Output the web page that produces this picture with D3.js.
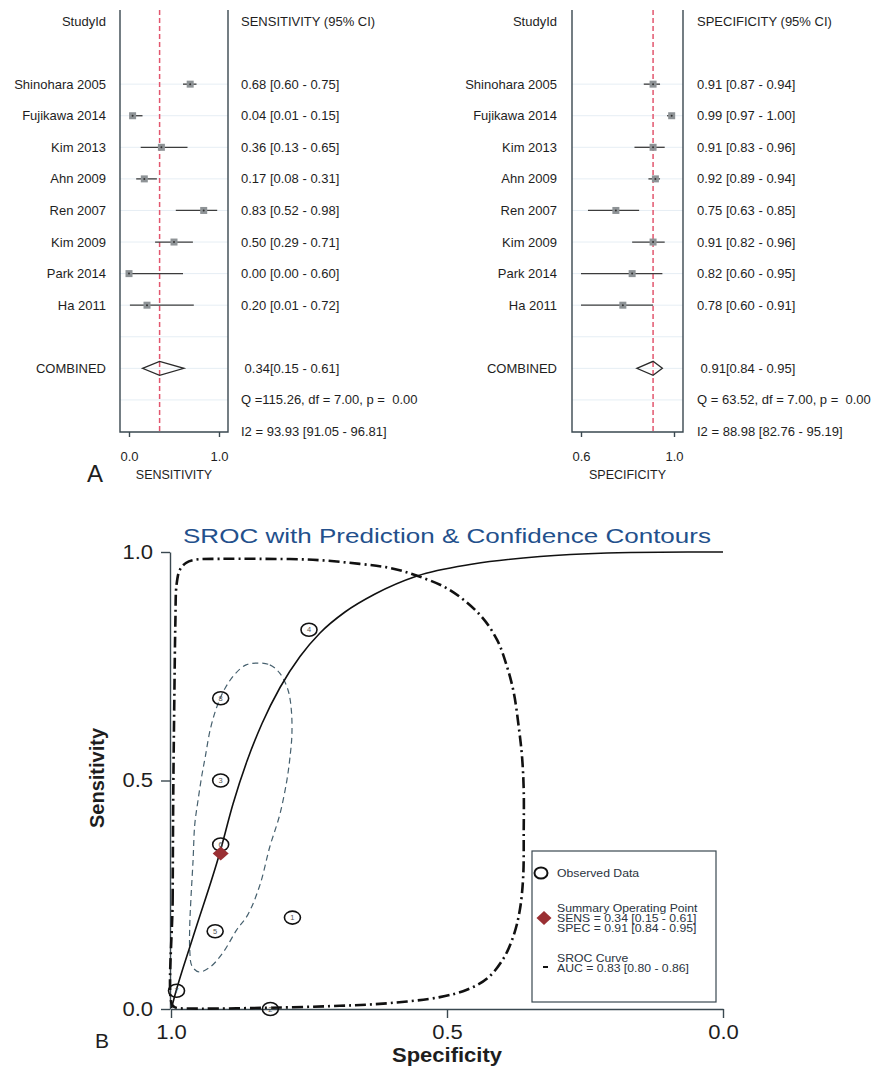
<!DOCTYPE html>
<html>
<head>
<meta charset="utf-8">
<script src="https://cdn.jsdelivr.net/npm/d3@7"></script>
<style>
  body { margin: 0; background: #ffffff; }
  svg { display: block; font-family: "Liberation Sans", Arial, sans-serif; }
  text { white-space: pre; }
</style>
</head>
<body>
<script>
// ---- Study-level data ----
const studies = ["Shinohara 2005", "Fujikawa 2014", "Kim 2013", "Ahn 2009", "Ren 2007", "Kim 2009", "Park 2014", "Ha 2011"];
const sens   = [0.68, 0.04, 0.36, 0.17, 0.83, 0.50, 0.00, 0.20];
const sensLo = [0.60, 0.01, 0.13, 0.08, 0.52, 0.29, 0.00, 0.01];
const sensHi = [0.75, 0.15, 0.65, 0.31, 0.98, 0.71, 0.60, 0.72];
const spec   = [0.91, 0.99, 0.91, 0.92, 0.75, 0.91, 0.82, 0.78];
const specLo = [0.87, 0.97, 0.83, 0.89, 0.63, 0.82, 0.60, 0.60];
const specHi = [0.94, 1.00, 0.96, 0.94, 0.85, 0.96, 0.95, 0.91];
const studyNumbers = [8, 7, 6, 5, 4, 3, 2, 1];

// ---- Pooled estimates and heterogeneity ----
const sensPooled = [0.34, 0.15, 0.61];
const specPooled = [0.91, 0.84, 0.95];
const sensHet = ["Q =115.26, df = 7.00, p =  0.00", "I2 = 93.93 [91.05 - 96.81]"];
const specHet = ["Q = 63.52, df = 7.00, p =  0.00", "I2 = 88.98 [82.76 - 95.19]"];
const aucText = "AUC = 0.83 [0.80 - 0.86]";

// ---- Axis ticks ----
const sensTicks = [0.0, 1.0];
const specTicks = [0.6, 1.0];
const srocTicks = [0.0, 0.5, 1.0];

// ---- SROC curve, [specificity, sensitivity] ----
const srocCurve = [
  [0.9991, 0.0022], [0.9928, 0.0306], [0.9601, 0.1575], [0.9112, 0.3435], [0.8877, 0.4486],
  [0.8623, 0.5427], [0.8351, 0.6247], [0.8025, 0.7035], [0.7663, 0.7713], [0.7301, 0.8228],
  [0.6848, 0.8687], [0.6304, 0.9081], [0.5543, 0.9475], [0.4529, 0.9737], [0.3315, 0.9902],
  [0.2101, 0.9978], [0.1141, 0.9996], [0.0000, 1.0000]
];

// ---- 95% confidence contour ----
const confContour = [
  [0.842, 0.757], [0.821, 0.753], [0.803, 0.735], [0.788, 0.698], [0.782, 0.654],
  [0.781, 0.600], [0.784, 0.556], [0.790, 0.501], [0.803, 0.425], [0.821, 0.355],
  [0.839, 0.271], [0.861, 0.206], [0.881, 0.173], [0.906, 0.123], [0.929, 0.092],
  [0.949, 0.081], [0.962, 0.094], [0.966, 0.129], [0.966, 0.184], [0.964, 0.239],
  [0.960, 0.326], [0.957, 0.403], [0.951, 0.457], [0.944, 0.512], [0.938, 0.551],
  [0.929, 0.611], [0.917, 0.661], [0.902, 0.702], [0.884, 0.733], [0.864, 0.753]
];

// ---- 95% prediction contour ----
const predContour = [
  [0.998, 0.009], [0.997, 0.239], [0.996, 0.457], [0.994, 0.676], [0.992, 0.851],
  [0.990, 0.928], [0.984, 0.961], [0.973, 0.976], [0.957, 0.983], [0.911, 0.985],
  [0.839, 0.985], [0.743, 0.983], [0.658, 0.974], [0.603, 0.965], [0.554, 0.948],
  [0.495, 0.917], [0.440, 0.862], [0.409, 0.807], [0.391, 0.748], [0.379, 0.692],
  [0.370, 0.617], [0.364, 0.551], [0.361, 0.479], [0.361, 0.392], [0.362, 0.289],
  [0.368, 0.217], [0.379, 0.162], [0.397, 0.112], [0.426, 0.068], [0.464, 0.042],
  [0.513, 0.026], [0.603, 0.013], [0.694, 0.007], [0.857, 0.002], [0.966, 0.001],
  [0.991, 0.003]
];

const f2 = d3.format(".2f");
const f1 = d3.format(".1f");
const ink = "#1e1e1e";
const axisCol = "#3a4850";

const svg = d3.select("body").append("svg").attr("width", 876).attr("height", 1068);

// widen a text horizontally by factor k (the SROC panel uses a wide face)
function widen(sel, k) {
  sel.each(function () {
    const w = this.getComputedTextLength();
    d3.select(this).attr("textLength", w * k).attr("lengthAdjust", "spacingAndGlyphs");
  });
}

// ================= Forest plots =================
const rowY = d3.scaleLinear().domain([-2, 11]).range([21, 431.5]);
const boxTop = 10, boxBottom = 432;

function forest(cfg) {
  const g = svg.append("g");
  const x = d3.scaleLinear().domain(cfg.domain).range(cfg.range);

  // faint row guides
  g.selectAll("line.guide").data(d3.range(0, 11)).join("line")
    .attr("x1", cfg.boxL).attr("x2", cfg.boxR)
    .attr("y1", d => rowY(d)).attr("y2", d => rowY(d))
    .attr("stroke", "#e6eef4").attr("stroke-width", 1);

  // panel frame
  g.append("path")
    .attr("d", `M${cfg.boxL},${boxTop}V${boxBottom}H${cfg.boxR}V${boxTop}`)
    .attr("fill", "none").attr("stroke", axisCol).attr("stroke-width", 1.4);

  // axis ticks
  const ax = g.append("g").attr("transform", `translate(0,${boxBottom})`)
    .call(d3.axisBottom(x).tickValues(cfg.ticks).tickFormat(f1).tickSize(5).tickPadding(15));
  ax.select(".domain").remove();
  ax.selectAll(".tick line").attr("stroke", axisCol).attr("stroke-width", 1.4);
  ax.selectAll(".tick text").attr("font-size", 13).attr("fill", ink)
    .attr("font-family", "Liberation Sans, Arial, sans-serif");

  // pooled reference line
  g.append("line")
    .attr("x1", x(cfg.pooled[0])).attr("x2", x(cfg.pooled[0]))
    .attr("y1", boxTop).attr("y2", boxBottom)
    .attr("stroke", "#e2566e").attr("stroke-width", 1.5).attr("stroke-dasharray", "5,3");

  // confidence intervals
  g.selectAll("line.ci").data(studies).join("line")
    .attr("x1", (d, i) => x(cfg.lo[i])).attr("x2", (d, i) => x(cfg.hi[i]))
    .attr("y1", (d, i) => rowY(i)).attr("y2", (d, i) => rowY(i))
    .attr("stroke", "#3c3c3c").attr("stroke-width", 1.3);

  // point estimates
  g.selectAll("rect.pt").data(studies).join("rect")
    .attr("x", (d, i) => x(cfg.est[i]) - 3.5).attr("y", (d, i) => rowY(i) - 3.5)
    .attr("width", 7).attr("height", 7).attr("fill", "#8e9396");
  g.selectAll("circle.pt").data(studies).join("circle")
    .attr("cx", (d, i) => x(cfg.est[i])).attr("cy", (d, i) => rowY(i))
    .attr("r", 1).attr("fill", "#333");

  // pooled diamond
  const yc = rowY(9);
  g.append("path")
    .attr("d", `M${x(cfg.pooled[1])},${yc}L${x(cfg.pooled[0])},${yc - 7}L${x(cfg.pooled[2])},${yc}L${x(cfg.pooled[0])},${yc + 7}Z`)
    .attr("fill", "none").attr("stroke", "#2a2a2a").attr("stroke-width", 1.3);

  // study labels
  const txt = (sel) => sel.attr("font-size", 13).attr("fill", ink).attr("dominant-baseline", "central");
  g.append("text").attr("x", cfg.nameX).attr("y", rowY(-2)).attr("text-anchor", "end").text("StudyId").call(txt);
  g.append("text").attr("x", cfg.textX).attr("y", rowY(-2)).text(cfg.header).call(txt);
  g.selectAll("text.name").data(studies).join("text")
    .attr("x", cfg.nameX).attr("y", (d, i) => rowY(i)).attr("text-anchor", "end").text(d => d).call(txt);
  g.selectAll("text.val").data(studies).join("text")
    .attr("x", cfg.textX).attr("y", (d, i) => rowY(i))
    .text((d, i) => `${f2(cfg.est[i])} [${f2(cfg.lo[i])} - ${f2(cfg.hi[i])}]`).call(txt);
  g.append("text").attr("x", cfg.nameX).attr("y", rowY(9)).attr("text-anchor", "end").text("COMBINED").call(txt);
  g.append("text").attr("x", cfg.textX).attr("y", rowY(9))
    .text(` ${f2(cfg.pooled[0])}[${f2(cfg.pooled[1])} - ${f2(cfg.pooled[2])}]`).call(txt);
  g.append("text").attr("x", cfg.textX).attr("y", rowY(10)).text(cfg.het[0]).call(txt);
  g.append("text").attr("x", cfg.textX).attr("y", rowY(11)).text(cfg.het[1]).call(txt);

  // axis title
  g.append("text").attr("x", (cfg.boxL + cfg.boxR) / 2).attr("y", 475)
    .attr("text-anchor", "middle").attr("dominant-baseline", "central")
    .attr("font-size", 12.5).attr("fill", ink).text(cfg.title);
}

forest({
  domain: [0, 1], range: [129, 219], boxL: 120, boxR: 228, ticks: sensTicks,
  est: sens, lo: sensLo, hi: sensHi, pooled: sensPooled, het: sensHet,
  nameX: 106, textX: 241, header: "SENSITIVITY (95% CI)", title: "SENSITIVITY"
});
forest({
  domain: [0.6, 1], range: [581, 674], boxL: 572, boxR: 683, ticks: specTicks,
  est: spec, lo: specLo, hi: specHi, pooled: specPooled, het: specHet,
  nameX: 557, textX: 697, header: "SPECIFICITY (95% CI)", title: "SPECIFICITY"
});

svg.append("text").attr("x", 87).attr("y", 482).attr("font-size", 24).attr("fill", ink).text("A");

// ================= SROC plot =================
const x = d3.scaleLinear().domain([1, 0]).range([171, 723]);
const y = d3.scaleLinear().domain([0, 1]).range([1009, 552]);

svg.append("text").attr("x", 447).attr("y", 543).attr("text-anchor", "middle")
  .attr("font-size", 21).attr("fill", "#23508c")
  .attr("textLength", 528).attr("lengthAdjust", "spacingAndGlyphs")
  .text("SROC with Prediction & Confidence Contours");

const yAx = svg.append("g").attr("transform", `translate(${x(1) - 1},0)`)
  .call(d3.axisLeft(y).tickValues(srocTicks).tickFormat(f1).tickSize(9).tickSizeOuter(0).tickPadding(8));
const xAx = svg.append("g").attr("transform", `translate(0,${y(0)})`)
  .call(d3.axisBottom(x).tickValues(srocTicks).tickFormat(f1).tickSize(9).tickSizeOuter(0).tickPadding(7));
[yAx, xAx].forEach(a => {
  a.selectAll("path, line").attr("stroke", axisCol).attr("stroke-width", 1.4);
  a.selectAll("text").attr("font-size", 19.5).attr("fill", ink)
    .attr("font-family", "Liberation Sans, Arial, sans-serif")
    .call(widen, 1.13);
});

svg.append("text").attr("x", 447).attr("y", 1062).attr("text-anchor", "middle")
  .attr("font-size", 20).attr("font-weight", "bold").attr("fill", ink)
  .attr("textLength", 110).attr("lengthAdjust", "spacingAndGlyphs").text("Specificity");
svg.append("text").attr("transform", "translate(104,778) rotate(-90)").attr("text-anchor", "middle")
  .attr("font-size", 20).attr("font-weight", "bold").attr("fill", ink).text("Sensitivity");
svg.append("text").attr("x", 95).attr("y", 1048).attr("font-size", 21).attr("fill", ink).text("B");

const lineOpen = d3.line().x(d => x(d[0])).y(d => y(d[1])).curve(d3.curveMonotoneX);
const lineClosed = d3.line().x(d => x(d[0])).y(d => y(d[1])).curve(d3.curveCatmullRomClosed);

// prediction region
svg.append("path").attr("d", lineClosed(predContour))
  .attr("fill", "none").attr("stroke", "#111").attr("stroke-width", 2.6)
  .attr("stroke-dasharray", "11,4,2,4");
// confidence region
svg.append("path").attr("d", lineClosed(confContour))
  .attr("fill", "none").attr("stroke", "#46606e").attr("stroke-width", 1.2)
  .attr("stroke-dasharray", "6,4");
// SROC curve
svg.append("path").attr("d", lineOpen(srocCurve))
  .attr("fill", "none").attr("stroke", "#111").attr("stroke-width", 1.6);

// observed studies
const obs = svg.append("g");
obs.selectAll("ellipse").data(studies).join("ellipse")
  .attr("cx", (d, i) => x(spec[i])).attr("cy", (d, i) => y(sens[i]))
  .attr("rx", 8).attr("ry", 6.5)
  .attr("fill", "none").attr("stroke", "#111").attr("stroke-width", 1.6);
obs.selectAll("text").data(studies).join("text")
  .attr("x", (d, i) => x(spec[i])).attr("y", (d, i) => y(sens[i]))
  .attr("text-anchor", "middle").attr("dominant-baseline", "central")
  .attr("font-size", 7.5).attr("fill", "#555").text((d, i) => studyNumbers[i]);

// summary operating point
const diamond = (cx, cy, w, h) => `M${cx - w},${cy}L${cx},${cy - h}L${cx + w},${cy}L${cx},${cy + h}Z`;
svg.append("path").attr("d", diamond(x(specPooled[0]), y(sensPooled[0]), 8, 7)).attr("fill", "#9a2f33");

// legend
const lg = svg.append("g");
lg.append("rect").attr("x", 532).attr("y", 851).attr("width", 184).attr("height", 151)
  .attr("fill", "#fff").attr("stroke", axisCol).attr("stroke-width", 1.2);
lg.append("ellipse").attr("cx", 541).attr("cy", 873).attr("rx", 6.5).attr("ry", 5.5)
  .attr("fill", "none").attr("stroke", "#111").attr("stroke-width", 2);
lg.append("path").attr("d", diamond(544, 918, 7.5, 7)).attr("fill", "#9a2f33");
lg.append("line").attr("x1", 543).attr("x2", 548).attr("y1", 967).attr("y2", 967)
  .attr("stroke", "#111").attr("stroke-width", 2);
const legendLines = [
  ["Observed Data", 873],
  ["Summary Operating Point", 908],
  [`SENS = ${f2(sensPooled[0])} [${f2(sensPooled[1])} - ${f2(sensPooled[2])}]`, 918],
  [`SPEC = ${f2(specPooled[0])} [${f2(specPooled[1])} - ${f2(specPooled[2])}]`, 928],
  ["SROC Curve", 958],
  [aucText, 968]
];
lg.selectAll("text").data(legendLines).join("text")
  .attr("x", 557).attr("y", d => d[1]).attr("dominant-baseline", "central")
  .attr("font-size", 11).attr("fill", "#2a3340").text(d => d[0])
  .call(widen, 1.11);
</script>
</body>
</html>
